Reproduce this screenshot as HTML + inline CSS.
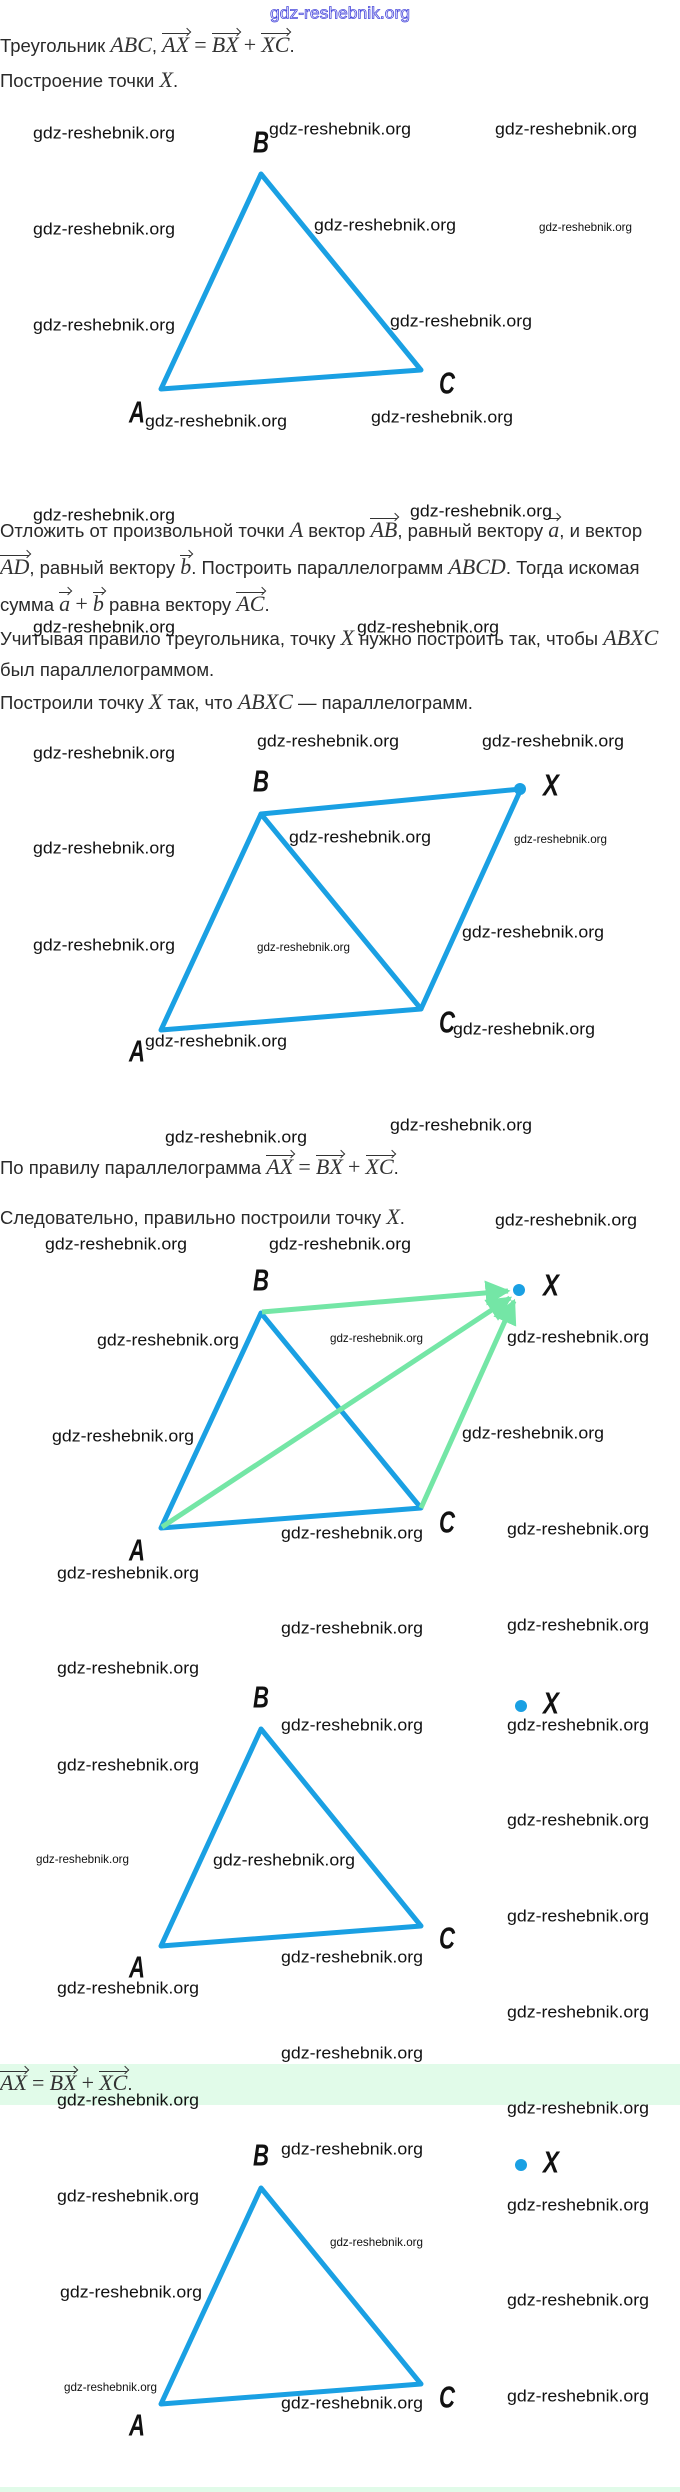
<!DOCTYPE html>
<html><head><meta charset="utf-8"><style>
html,body{margin:0;padding:0;background:#fff;}
body{width:680px;height:2492px;position:relative;overflow:hidden;font-family:"Liberation Sans",sans-serif;}
.t{position:absolute;left:0;white-space:nowrap;font-size:18.5px;color:#2a2a2a;line-height:24px;height:24px;}
.m{font-family:"Liberation Serif",serif;font-style:italic;font-size:22px;color:#333;}
.v{display:inline-block;position:relative;border-top:1.3px solid #333;line-height:20px;padding-top:1px;}
.v:after{content:"";position:absolute;right:-1px;top:-5px;width:5px;height:5px;border-top:1.3px solid #333;border-right:1.3px solid #333;transform:rotate(45deg);transform-origin:center;}
.p{font-family:"Liberation Serif",serif;font-size:22px;color:#333;}
svg{position:absolute;left:0;top:0;}
</style></head><body>
<div style="position:absolute;left:0;top:2064px;width:680px;height:41px;background:#e1fbe9"></div>
<div style="position:absolute;left:0;top:2487px;width:680px;height:5px;background:#e1fbe9"></div>

<div class="t" style="top:33px">Треугольник <span class="m">ABC</span>, <span class="m v">AX</span> <span class="p">=</span> <span class="m v">BX</span> <span class="p">+</span> <span class="m v">XC</span>.</div>
<div class="t" style="top:68px">Построение точки <span class="m">X</span>.</div>

<div class="t" style="top:518px">Отложить от произвольной точки <span class="m">A</span> вектор <span class="m v">AB</span>, равный вектору <span class="m v">a</span>, и вектор</div>
<div class="t" style="top:555px"><span class="m v">AD</span>, равный вектору <span class="m v">b</span>. Построить параллелограмм <span class="m">ABCD</span>. Тогда искомая</div>
<div class="t" style="top:592px">сумма <span class="m v">a</span> <span class="p">+</span> <span class="m v">b</span> равна вектору <span class="m v">AC</span>.</div>
<div class="t" style="top:626px">Учитывая правило треугольника, точку <span class="m">X</span> нужно построить так, чтобы <span class="m">ABXC</span></div>
<div class="t" style="top:658px">был параллелограммом.</div>
<div class="t" style="top:690px">Построили точку <span class="m">X</span> так, что <span class="m">ABXC</span> — параллелограмм.</div>

<div class="t" style="top:1155px">По правилу параллелограмма <span class="m v">AX</span> <span class="p">=</span> <span class="m v">BX</span> <span class="p">+</span> <span class="m v">XC</span>.</div>
<div class="t" style="top:1205px">Следовательно, правильно построили точку <span class="m">X</span>.</div>

<div class="t" style="top:2071px"><span class="m v">AX</span> <span class="p">=</span> <span class="m v">BX</span> <span class="p">+</span> <span class="m v">XC</span>.</div>

<svg width="680" height="2492" viewBox="0 0 680 2492">
<defs>
<marker id="ah" viewBox="0 0 10 10" refX="9" refY="5" markerWidth="5" markerHeight="5" orient="auto" markerUnits="strokeWidth">
<path d="M0,0 L10,5 L0,10 z" fill="#74e6a6"/></marker>
</defs>
<g fill="none" stroke="#1aa0e3" stroke-width="5" stroke-linejoin="round" stroke-linecap="round">
<polygon points="261,174 161,389 421,370"/>
<polygon points="261,814 521,789 421,1009 161,1030"/>
<line x1="261" y1="814" x2="421" y2="1009"/>
<polyline points="161,1528 261,1313 421,1508 161,1528"/>
<polygon points="261,1729 161,1946 421,1926"/>
<polygon points="261,2188 161,2404 421,2384"/>
</g>
<g stroke="#74e6a6" stroke-width="5" fill="none" marker-end="url(#ah)">
<line x1="262" y1="1312" x2="508" y2="1291"/>
<line x1="162" y1="1527" x2="510" y2="1298"/>
<line x1="421" y1="1508" x2="514" y2="1301"/>
</g>
<g fill="#1aa0e3">
<circle cx="520" cy="789" r="6"/>
<circle cx="519" cy="1290" r="6"/>
<circle cx="521" cy="1706" r="6"/>
<circle cx="521" cy="2165" r="6"/>
</g>
<g font-family="Liberation Sans, sans-serif" font-weight="bold" font-style="italic" font-size="31" fill="#111" dominant-baseline="central">
<text x="253" y="142" textLength="16" lengthAdjust="spacingAndGlyphs">B</text><text x="129" y="412" textLength="16" lengthAdjust="spacingAndGlyphs">A</text><text x="439" y="383" textLength="16" lengthAdjust="spacingAndGlyphs">C</text>
<text x="253" y="781" textLength="16" lengthAdjust="spacingAndGlyphs">B</text><text x="543" y="785" textLength="16" lengthAdjust="spacingAndGlyphs">X</text><text x="439" y="1022" textLength="16" lengthAdjust="spacingAndGlyphs">C</text><text x="129" y="1051" textLength="16" lengthAdjust="spacingAndGlyphs">A</text>
<text x="253" y="1280" textLength="16" lengthAdjust="spacingAndGlyphs">B</text><text x="543" y="1285" textLength="16" lengthAdjust="spacingAndGlyphs">X</text><text x="439" y="1522" textLength="16" lengthAdjust="spacingAndGlyphs">C</text><text x="129" y="1550" textLength="16" lengthAdjust="spacingAndGlyphs">A</text>
<text x="253" y="1697" textLength="16" lengthAdjust="spacingAndGlyphs">B</text><text x="543" y="1703" textLength="16" lengthAdjust="spacingAndGlyphs">X</text><text x="439" y="1938" textLength="16" lengthAdjust="spacingAndGlyphs">C</text><text x="129" y="1967" textLength="16" lengthAdjust="spacingAndGlyphs">A</text>
<text x="253" y="2155" textLength="16" lengthAdjust="spacingAndGlyphs">B</text><text x="543" y="2162" textLength="16" lengthAdjust="spacingAndGlyphs">X</text><text x="439" y="2397" textLength="16" lengthAdjust="spacingAndGlyphs">C</text><text x="129" y="2425" textLength="16" lengthAdjust="spacingAndGlyphs">A</text>
</g>
<text x="270" y="13" font-family="Liberation Sans, sans-serif" font-size="17" fill="#fff" stroke="#4b4bdc" stroke-width="0.8" dominant-baseline="central" textLength="140" lengthAdjust="spacingAndGlyphs">gdz-reshebnik.org</text>
<g font-family="Liberation Sans, sans-serif" font-size="17" fill="#111" dominant-baseline="central">
<text x="33" y="133" textLength="142" lengthAdjust="spacingAndGlyphs">gdz-reshebnik.org</text>
<text x="269" y="129" textLength="142" lengthAdjust="spacingAndGlyphs">gdz-reshebnik.org</text>
<text x="495" y="129" textLength="142" lengthAdjust="spacingAndGlyphs">gdz-reshebnik.org</text>
<text x="33" y="229" textLength="142" lengthAdjust="spacingAndGlyphs">gdz-reshebnik.org</text>
<text x="314" y="225" textLength="142" lengthAdjust="spacingAndGlyphs">gdz-reshebnik.org</text>
<text x="539" y="227" font-size="12" textLength="93" lengthAdjust="spacingAndGlyphs">gdz-reshebnik.org</text>
<text x="33" y="325" textLength="142" lengthAdjust="spacingAndGlyphs">gdz-reshebnik.org</text>
<text x="390" y="321" textLength="142" lengthAdjust="spacingAndGlyphs">gdz-reshebnik.org</text>
<text x="145" y="421" textLength="142" lengthAdjust="spacingAndGlyphs">gdz-reshebnik.org</text>
<text x="371" y="417" textLength="142" lengthAdjust="spacingAndGlyphs">gdz-reshebnik.org</text>

<text x="33" y="515" textLength="142" lengthAdjust="spacingAndGlyphs">gdz-reshebnik.org</text>
<text x="410" y="511" textLength="142" lengthAdjust="spacingAndGlyphs">gdz-reshebnik.org</text>
<text x="33" y="627" textLength="142" lengthAdjust="spacingAndGlyphs">gdz-reshebnik.org</text>
<text x="357" y="627" textLength="142" lengthAdjust="spacingAndGlyphs">gdz-reshebnik.org</text>
<text x="257" y="741" textLength="142" lengthAdjust="spacingAndGlyphs">gdz-reshebnik.org</text>
<text x="482" y="741" textLength="142" lengthAdjust="spacingAndGlyphs">gdz-reshebnik.org</text>
<text x="33" y="753" textLength="142" lengthAdjust="spacingAndGlyphs">gdz-reshebnik.org</text>
<text x="289" y="837" textLength="142" lengthAdjust="spacingAndGlyphs">gdz-reshebnik.org</text>
<text x="514" y="839" font-size="12" textLength="93" lengthAdjust="spacingAndGlyphs">gdz-reshebnik.org</text>
<text x="33" y="848" textLength="142" lengthAdjust="spacingAndGlyphs">gdz-reshebnik.org</text>
<text x="462" y="932" textLength="142" lengthAdjust="spacingAndGlyphs">gdz-reshebnik.org</text>
<text x="257" y="947" font-size="12" textLength="93" lengthAdjust="spacingAndGlyphs">gdz-reshebnik.org</text>
<text x="33" y="945" textLength="142" lengthAdjust="spacingAndGlyphs">gdz-reshebnik.org</text>
<text x="453" y="1029" textLength="142" lengthAdjust="spacingAndGlyphs">gdz-reshebnik.org</text>
<text x="145" y="1041" textLength="142" lengthAdjust="spacingAndGlyphs">gdz-reshebnik.org</text>

<text x="390" y="1125" textLength="142" lengthAdjust="spacingAndGlyphs">gdz-reshebnik.org</text>
<text x="165" y="1137" textLength="142" lengthAdjust="spacingAndGlyphs">gdz-reshebnik.org</text>
<text x="495" y="1220" textLength="142" lengthAdjust="spacingAndGlyphs">gdz-reshebnik.org</text>
<text x="45" y="1244" textLength="142" lengthAdjust="spacingAndGlyphs">gdz-reshebnik.org</text>
<text x="269" y="1244" textLength="142" lengthAdjust="spacingAndGlyphs">gdz-reshebnik.org</text>
<text x="97" y="1340" textLength="142" lengthAdjust="spacingAndGlyphs">gdz-reshebnik.org</text>
<text x="330" y="1338" font-size="12" textLength="93" lengthAdjust="spacingAndGlyphs">gdz-reshebnik.org</text>
<text x="507" y="1337" textLength="142" lengthAdjust="spacingAndGlyphs">gdz-reshebnik.org</text>
<text x="52" y="1436" textLength="142" lengthAdjust="spacingAndGlyphs">gdz-reshebnik.org</text>
<text x="462" y="1433" textLength="142" lengthAdjust="spacingAndGlyphs">gdz-reshebnik.org</text>
<text x="281" y="1533" textLength="142" lengthAdjust="spacingAndGlyphs">gdz-reshebnik.org</text>
<text x="507" y="1529" textLength="142" lengthAdjust="spacingAndGlyphs">gdz-reshebnik.org</text>
<text x="57" y="1573" textLength="142" lengthAdjust="spacingAndGlyphs">gdz-reshebnik.org</text>

<text x="281" y="1628" textLength="142" lengthAdjust="spacingAndGlyphs">gdz-reshebnik.org</text>
<text x="507" y="1625" textLength="142" lengthAdjust="spacingAndGlyphs">gdz-reshebnik.org</text>
<text x="57" y="1668" textLength="142" lengthAdjust="spacingAndGlyphs">gdz-reshebnik.org</text>
<text x="281" y="1725" textLength="142" lengthAdjust="spacingAndGlyphs">gdz-reshebnik.org</text>
<text x="507" y="1725" textLength="142" lengthAdjust="spacingAndGlyphs">gdz-reshebnik.org</text>
<text x="57" y="1765" textLength="142" lengthAdjust="spacingAndGlyphs">gdz-reshebnik.org</text>
<text x="507" y="1820" textLength="142" lengthAdjust="spacingAndGlyphs">gdz-reshebnik.org</text>
<text x="36" y="1859" font-size="12" textLength="93" lengthAdjust="spacingAndGlyphs">gdz-reshebnik.org</text>
<text x="213" y="1860" textLength="142" lengthAdjust="spacingAndGlyphs">gdz-reshebnik.org</text>
<text x="507" y="1916" textLength="142" lengthAdjust="spacingAndGlyphs">gdz-reshebnik.org</text>
<text x="281" y="1957" textLength="142" lengthAdjust="spacingAndGlyphs">gdz-reshebnik.org</text>
<text x="57" y="1988" textLength="142" lengthAdjust="spacingAndGlyphs">gdz-reshebnik.org</text>
<text x="507" y="2012" textLength="142" lengthAdjust="spacingAndGlyphs">gdz-reshebnik.org</text>
<text x="281" y="2053" textLength="142" lengthAdjust="spacingAndGlyphs">gdz-reshebnik.org</text>

<text x="57" y="2100" textLength="142" lengthAdjust="spacingAndGlyphs">gdz-reshebnik.org</text>
<text x="507" y="2108" textLength="142" lengthAdjust="spacingAndGlyphs">gdz-reshebnik.org</text>
<text x="281" y="2149" textLength="142" lengthAdjust="spacingAndGlyphs">gdz-reshebnik.org</text>
<text x="57" y="2196" textLength="142" lengthAdjust="spacingAndGlyphs">gdz-reshebnik.org</text>
<text x="507" y="2205" textLength="142" lengthAdjust="spacingAndGlyphs">gdz-reshebnik.org</text>
<text x="330" y="2242" font-size="12" textLength="93" lengthAdjust="spacingAndGlyphs">gdz-reshebnik.org</text>
<text x="60" y="2292" textLength="142" lengthAdjust="spacingAndGlyphs">gdz-reshebnik.org</text>
<text x="507" y="2300" textLength="142" lengthAdjust="spacingAndGlyphs">gdz-reshebnik.org</text>
<text x="64" y="2387" font-size="12" textLength="93" lengthAdjust="spacingAndGlyphs">gdz-reshebnik.org</text>
<text x="281" y="2403" textLength="142" lengthAdjust="spacingAndGlyphs">gdz-reshebnik.org</text>
<text x="507" y="2396" textLength="142" lengthAdjust="spacingAndGlyphs">gdz-reshebnik.org</text>
</g>
</svg>
</body></html>
